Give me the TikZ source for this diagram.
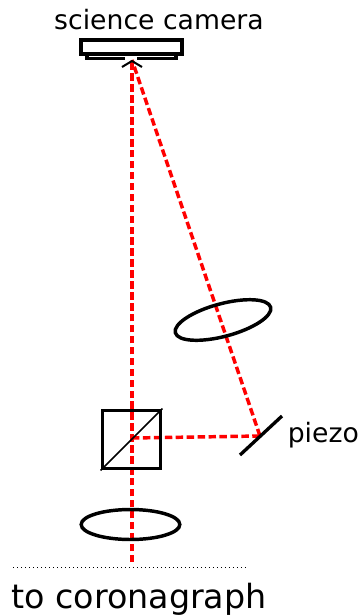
\documentclass[tikz,border=0pt]{standalone}
\usepackage{fontspec}
\usetikzlibrary{shapes.geometric}
\setmainfont{DejaVu Sans}
\tikzset{
  optic/.style={draw=black,line width=2.6pt,fill=none,inner sep=0pt},
  beam/.style={draw=red,line width=2.6pt,dash pattern=on 5.6pt off 2.6pt},
  lbl/.style={inner sep=0pt,text=black},
}
\begin{document}
\begin{tikzpicture}[x=0.75pt,y=-0.75pt]
\useasboundingbox (0,0) rectangle (359,615);
% beams
\coordinate (focus) at (132,60);
\coordinate (bsc) at (132,438);
\coordinate (bottom) at (132,562);
\coordinate (mirror) at (260,436);
\draw[beam] (bottom) -- (focus);
\draw[beam] (bsc) -- (mirror);
\draw[beam] (mirror) -- (focus);
% camera
\node[optic,line width=2.8pt,minimum width=75.5pt,minimum height=10pt] (cam) at (131.5,47) {};
\draw[line width=2.3pt] (87,54) -- (87,58.5) -- (125,58.5) (137,58.5) -- (176,58.5) -- (176,54);
\draw[line width=1.5pt] (122,67) -- (132,61) -- (142,67);
% beam splitter
\node[optic,line width=2.9pt,minimum size=43.5pt] (bs) at (131.5,439.5) {};
\draw[line width=1.2pt] (bs.south west) -- (bs.north east);
% lenses
\node[optic,ellipse,minimum width=74pt,minimum height=22.5pt] (lens1) at (130.5,524.5) {};
\node[optic,ellipse,minimum width=74pt,minimum height=24.5pt,rotate=15] (lens2) at (223,320) {};
% mirror
\coordinate (ma) at (240,455);
\coordinate (mb) at (282,416);
\draw[line width=2.5pt] (ma) -- (mb);
% dotted line
\coordinate (da) at (13,567.5);
\coordinate (db) at (246,567.5);
\draw[line width=1.4pt,dash pattern=on 1.1pt off 1.9pt] (da) -- (db);
% labels
\node[lbl,font=\fontsize{20pt}{22pt}\selectfont,anchor=base] (t1) at (159,29) {science camera};
\node[lbl,font=\fontsize{20pt}{22pt}\selectfont,anchor=base west] (t2) at (287.5,442) {piezo};
\node[lbl,font=\fontsize{25pt}{28pt}\selectfont,anchor=base] (t3) at (139,608) {to coronagraph};
\end{tikzpicture}
\end{document}
